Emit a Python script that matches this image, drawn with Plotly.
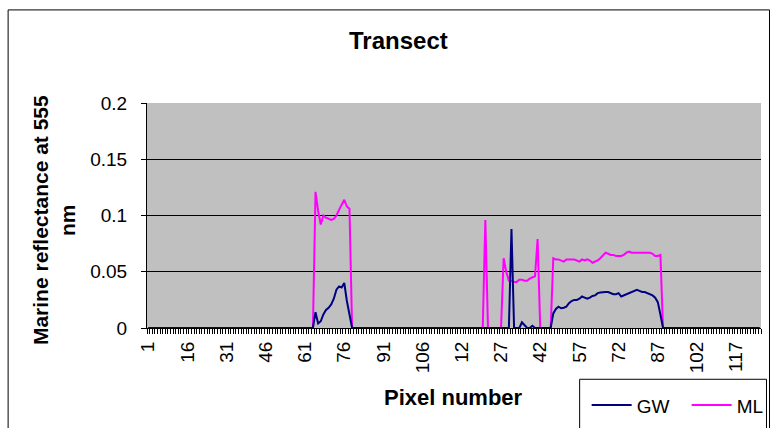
import plotly.graph_objects as go

# Pixel numbers of the two scan passes that make up the transect
pass1_pixels = list(range(1, 110))
pass2_pixels = list(range(1, 127))
pixel_labels = pass1_pixels + pass2_pixels

# Marine reflectance at 555 nm, non-zero runs (first sample index is 1-based)
gw_west_start = 65
gw_west = [0.014, 0.004, 0.006, 0.012, 0.016, 0.018, 0.021, 0.026, 0.034, 0.037,
           0.036, 0.040, 0.024, 0.011]
ml_west_start = 65
ml_west = [0.121, 0.104, 0.092, 0.100, 0.098, 0.097, 0.096, 0.097, 0.100, 0.105,
           0.110, 0.114, 0.108, 0.106]

ml_spike_start = 130
ml_spike = [0.096]

ml_mid_start = 137
ml_mid = [0.062, 0.050, 0.042, 0.042, 0.041, 0.041, 0.043, 0.043, 0.042, 0.042,
          0.044, 0.045, 0.046, 0.079]
gw_mid_start = 139
gw_mid = [0.0, 0.088, 0.0, 0.0, 0.0, 0.005, 0.002, 0.0, 0.0, 0.002]

gw_east_start = 156
gw_east = [0.013, 0.017, 0.019, 0.0175, 0.018, 0.019, 0.022, 0.024, 0.025, 0.025,
           0.026, 0.028, 0.027, 0.026, 0.027, 0.0285, 0.029, 0.031, 0.0315, 0.032,
           0.032, 0.032, 0.031, 0.030, 0.030, 0.031, 0.028, 0.029, 0.030, 0.031,
           0.032, 0.033, 0.034, 0.033, 0.032, 0.032, 0.031, 0.030, 0.029, 0.027,
           0.023, 0.012]
ml_east_start = 156
ml_east = [0.062, 0.061, 0.061, 0.060, 0.059, 0.061, 0.061, 0.061, 0.061, 0.060,
           0.059, 0.061, 0.060, 0.061, 0.060, 0.058, 0.059, 0.060, 0.062, 0.065,
           0.067, 0.066, 0.065, 0.065, 0.064, 0.064, 0.064, 0.065, 0.067, 0.068,
           0.067, 0.067, 0.067, 0.067, 0.067, 0.067, 0.067, 0.067, 0.066, 0.064,
           0.064, 0.065]

N = len(pixel_labels)
sample = list(range(1, N + 1))


def series(*runs):
    vals = [0.0] * N
    for start, run in runs:
        for k, v in enumerate(run):
            vals[start - 1 + k] = v
    return vals


gw = series((gw_west_start, gw_west), (gw_mid_start, gw_mid), (gw_east_start, gw_east))
ml = series((ml_west_start, ml_west), (ml_spike_start, ml_spike),
            (ml_mid_start, ml_mid), (ml_east_start, ml_east))

tick_every = 15
tickvals = sample[::tick_every]
ticktext = [str(pixel_labels[i - 1]) for i in tickvals]

# Page geometry (px)
W, H = 774, 428
L, R, T, B = 147, 12.5, 102.5, 99.5
PW = W - L - R
PH = H - T - B


def fx(px):
    return (px - L) / PW


def fy(py):
    return (H - B - py) / PH


FONT = "Arial, Liberation Sans, Helvetica, sans-serif"

fig = go.Figure()
fig.add_trace(go.Scatter(x=sample, y=ml, mode="lines", name="ML",
                         line=dict(color="#FF00FF", width=2)))
fig.add_trace(go.Scatter(x=sample, y=gw, mode="lines", name="GW",
                         line=dict(color="#000080", width=2)))

fig.update_layout(
    width=W, height=H, autosize=False,
    margin=dict(l=L, r=R, t=T, b=B, pad=0, autoexpand=False),
    paper_bgcolor="white", plot_bgcolor="#C0C0C0",
    font=dict(family=FONT, color="black"),
    showlegend=True,
    legend=dict(orientation="h", traceorder="reversed",
                x=fx(587), xanchor="left", y=fy(387), yanchor="top",
                font=dict(size=19, family=FONT), bgcolor="rgba(0,0,0,0)",
                borderwidth=0, itemwidth=40, entrywidth=45, entrywidthmode="pixels"),
    xaxis=dict(range=[0.5, N + 0.5], tickmode="array", tickvals=tickvals,
               ticktext=ticktext, tickangle=-90, ticks="outside", ticklen=5,
               tickcolor="rgba(0,0,0,0)", showgrid=False, zeroline=False,
               showline=True, linecolor="black", linewidth=1,
               tickfont=dict(size=19), automargin=False,
               minor=dict(tickmode="linear", tick0=0.5, dtick=1, ticks="outside",
                          ticklen=5, tickcolor="black", tickwidth=1, showgrid=False)),
    yaxis=dict(range=[0, 0.2], tickmode="linear", tick0=0, dtick=0.05,
               ticks="outside", ticklen=5, tickcolor="black",
               showgrid=True, gridcolor="black", gridwidth=1, zeroline=False,
               showline=True, linecolor="black", linewidth=1, automargin=False,
               tickfont=dict(size=19), ticklabelstandoff=10),
    shapes=[
        dict(type="rect", xref="paper", yref="paper",
             x0=fx(8), x1=fx(770), y0=fy(9), y1=fy(450),
             line=dict(color="black", width=1), fillcolor="rgba(0,0,0,0)", layer="below"),
        dict(type="rect", xref="paper", yref="paper",
             x0=fx(580), x1=fx(767), y0=fy(380), y1=fy(450),
             line=dict(color="black", width=1), fillcolor="white", layer="above"),
    ],
    annotations=[
        dict(text="<b>Transect</b>", xref="paper", yref="paper", x=fx(399), y=fy(40),
             xanchor="center", yanchor="middle", showarrow=False, font=dict(size=24)),
        dict(text="<b>Pixel number</b>", xref="paper", yref="paper", x=fx(454), y=fy(398),
             xanchor="center", yanchor="middle", showarrow=False, font=dict(size=22)),
        dict(text="<b>Marine reflectance at 555</b>", xref="paper", yref="paper",
             x=fx(41), y=fy(220), xanchor="center", yanchor="middle", textangle=-90,
             showarrow=False, font=dict(size=21)),
        dict(text="<b>nm</b>", xref="paper", yref="paper",
             x=fx(68), y=fy(220), xanchor="center", yanchor="middle", textangle=-90,
             showarrow=False, font=dict(size=21)),
    ],
)

fig.write_html("out.html")
